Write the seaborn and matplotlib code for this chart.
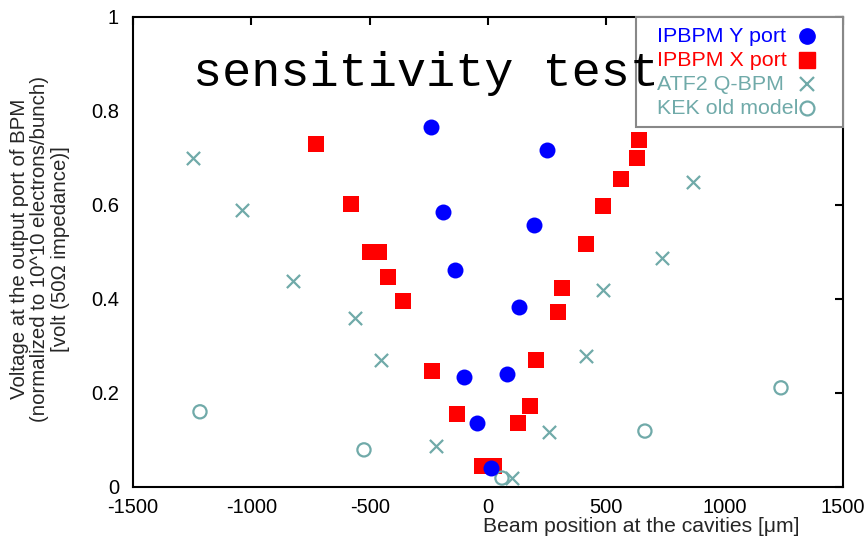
import numpy as np
import pandas as pd
import matplotlib
matplotlib.use("Agg")
import matplotlib.pyplot as plt
from matplotlib.lines import Line2D
from matplotlib.patches import Rectangle
import seaborn as sns

# ---- data ----
y_port_x = [-241, 251, -189, 194, -139, 131, -100, 80, -48, 14]
y_port_v = [0.765, 0.718, 0.585, 0.558, 0.461, 0.384, 0.233, 0.240, 0.137, 0.040]

x_port_x = [-727, -578, -499, -459, -421, -360, -237, -130, -27, 27,
            127, 177, 202, 294, 313, 413, 486, 561, 628, 637]
x_port_v = [0.730, 0.603, 0.499, 0.499, 0.447, 0.395, 0.246, 0.155, 0.045, 0.045,
            0.137, 0.172, 0.270, 0.372, 0.423, 0.517, 0.598, 0.655, 0.699, 0.738]

atf2_x = [-1246, -1039, -824, -562, -452, -220, 103, 258, 413, 487, 736, 867]
atf2_v = [0.700, 0.589, 0.438, 0.360, 0.270, 0.087, 0.020, 0.118, 0.279, 0.419, 0.488, 0.650]

kek_x = [-1217, -524, 59, 663, 1238]
kek_v = [0.160, 0.079, 0.019, 0.119, 0.211]

series_labels = ["IPBPM Y port", "IPBPM X port", "ATF2 Q-BPM", "KEK old model"]
x_ticks = [-1500, -1000, -500, 0, 500, 1000, 1500]
y_ticks = [0, 0.2, 0.4, 0.6, 0.8, 1]
y_tick_labels = ["0", "0.2", "0.4", "0.6", "0.8", "1"]

BLUE = "#0000ff"
RED = "#ff0000"
TEAL = "#70aaa9"

sns.set_style("white")
plt.rcParams["font.family"] = ["Liberation Sans", "DejaVu Sans"]

W, H = 867, 538
fig = plt.figure(figsize=(W / 100, H / 100), dpi=100)
ax = fig.add_axes([133 / W, 1 - 487 / H, 710 / W, 470 / H])

sns.scatterplot(x=y_port_x, y=y_port_v, ax=ax, marker="o", color=BLUE,
                s=11.5 ** 2, linewidth=0, zorder=4)
sns.scatterplot(x=x_port_x, y=x_port_v, ax=ax, marker="s", color=RED,
                s=11.5 ** 2, linewidth=0, zorder=3)
sns.scatterplot(x=atf2_x, y=atf2_v, ax=ax, marker="x", color=TEAL,
                s=9.5 ** 2, linewidth=1.6, zorder=3)
sns.scatterplot(x=kek_x, y=kek_v, ax=ax, marker="o", facecolors="none",
                edgecolor=TEAL, s=9.5 ** 2, linewidth=1.6, zorder=3)

ax.set_xlim(-1500, 1500)
ax.set_ylim(0, 1)
ax.set_xticks(x_ticks)
ax.set_xticklabels([str(t) for t in x_ticks])
ax.set_yticks(y_ticks)
ax.set_yticklabels(y_tick_labels)
ax.tick_params(direction="in", length=6, width=1.5, top=True, right=True,
               labelsize=14.5, colors="black")
ax.tick_params(axis="x", pad=8)
ax.tick_params(axis="y", pad=10)
for sp in ax.spines.values():
    sp.set_visible(True)
    sp.set_color("black")
    sp.set_linewidth(1.5)
ax.set_xlabel("")
ax.set_ylabel("")

# axis labels
fig.text(641 / W, 1 - 526 / H, "Beam position at the cavities [\u03bcm]",
         ha="center", va="center", fontsize=15.2)
fig.text(40 / W, 1 - 249 / H,
         "Voltage at the output port of BPM\n(normalized to 10^10 electrons/bunch)\n[volt (50\u03a9 impedance)]",
         ha="center", va="center", rotation=90, fontsize=14.7, linespacing=1.13,
         multialignment="center")

# legend: left-aligned coloured labels, markers in a column on the right
frame = Rectangle((636 / W, 1 - 127 / H), (843 - 636) / W, (127 - 17) / H,
                  transform=fig.transFigure, facecolor="white",
                  edgecolor="#888888", linewidth=1.5, zorder=5)
fig.add_artist(frame)

leg_colors = [BLUE, RED, TEAL, TEAL]
leg_styles = [
    dict(marker="o", color=BLUE, ms=11),
    dict(marker="s", color=RED, ms=11),
    dict(marker="x", color=TEAL, ms=10, mew=1.6),
    dict(marker="o", mfc="none", mec=TEAL, ms=10, mew=1.6),
]
row_y = [36, 60, 84, 108]
for lab, col, sty, ry in zip(series_labels, leg_colors, leg_styles, row_y):
    fig.text(657 / W, 1 - ry / H, lab, ha="left", va="center",
             fontsize=15.4, color=col, zorder=6)
    fig.add_artist(Line2D([807 / W], [1 - ry / H], ls="",
                          transform=fig.transFigure, zorder=6, **sty))

# title overlay
fig.text(426 / W, 1 - 86 / H, "sensitivity test", ha="center",
         va="baseline", fontsize=35, family=["Liberation Mono", "DejaVu Sans Mono"],
         color="black", zorder=10)

fig.savefig("out.png", dpi=100)
